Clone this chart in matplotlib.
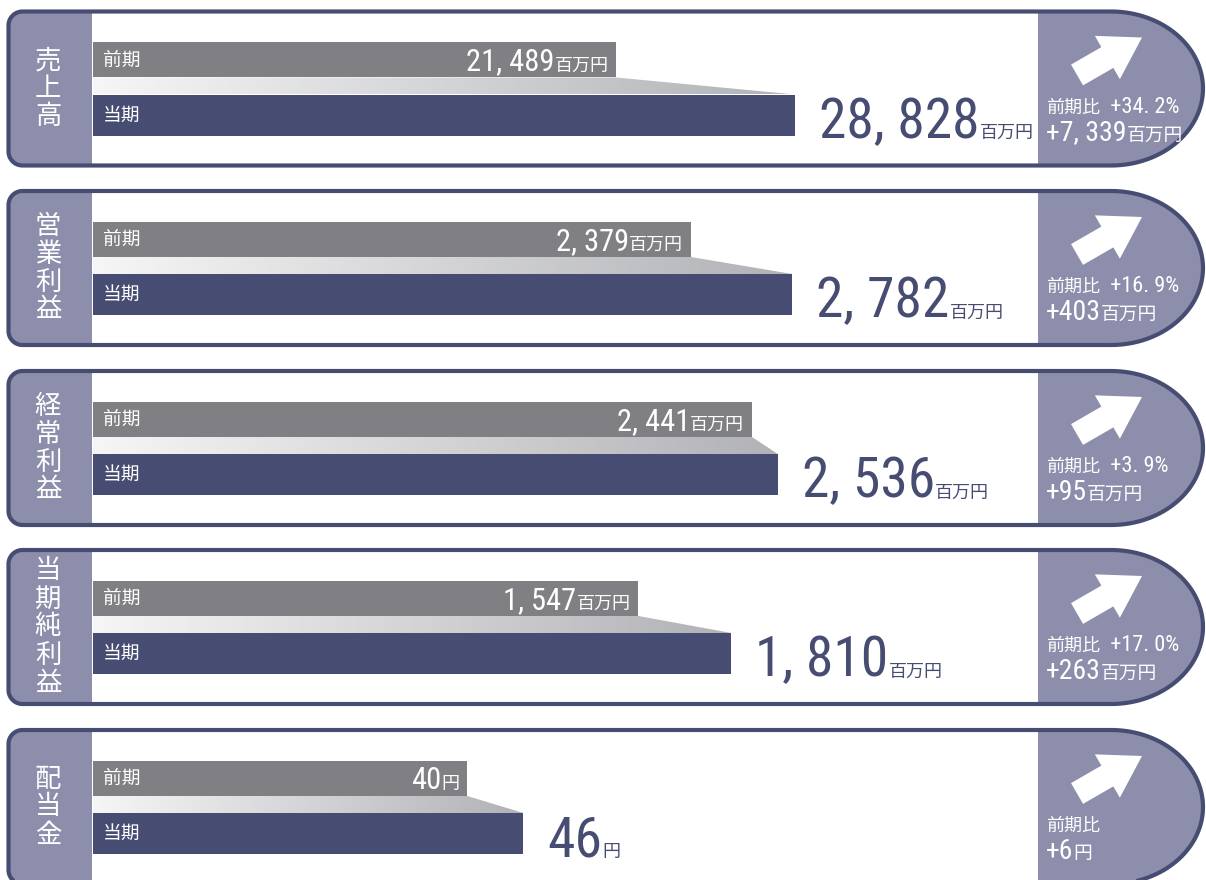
#!/usr/bin/env python3
import matplotlib

matplotlib.use("Agg")
import matplotlib.pyplot as plt
import numpy as np
from matplotlib import font_manager
from matplotlib.colors import LinearSegmentedColormap
from matplotlib.patches import Polygon, Rectangle
from matplotlib.transforms import offset_copy


# data
ITEMS = ["売上高", "営業利益", "経常利益", "当期純利益", "配当金"]
PREV = [21489, 2379, 2441, 1547, 40]
CURR = [28828, 2782, 2536, 1810, 46]
UNITS = ["百万円", "百万円", "百万円", "百万円", "円"]
CHANGE_PCT = ["+34.2%", "+16.9%", "+3.9%", "+17.0%", ""]
CHANGE_ABS = [7339, 403, 95, 263, 6]
PREV_LABEL = "前期"
CURR_LABEL = "当期"
RATIO_LABEL = "前期比"

# per-panel axis maximum (each panel has its own scale)
XMAX = [38800, 3760, 3500, 2680, 101]

W, H = 1206, 880
PANEL_TOP = [11.5, 191, 371, 550, 730]
PANEL_H = 154
NAVY = "#474c72"
SIDE = "#8d8eab"
GRAY = "#808084"
BAR_X0, BAR_X1 = 93, 1038

CJK = ["Noto Sans CJK JP", "DejaVu Sans"]


def pick_narrow():
    fonts = font_manager.fontManager.ttflist
    names = {f.name for f in fonts}
    for cand in ["Liberation Sans Narrow", "Roboto Condensed", "Open Sans Condensed", "DejaVu Sans Condensed"]:
        if cand in names:
            return {"family": [cand] + CJK}
    for f in fonts:
        if f.name == "DejaVu Sans" and "condensed" in str(f.stretch):
            return {"family": ["DejaVu Sans"] + CJK, "fontstretch": "condensed"}
    return {"family": ["Roboto"] + CJK}


NARROW = pick_narrow()


def fmt(v):
    return f"{v:,}".replace(",", ", ")


def panel_outline(x0, y0, x1, y1, r, rx):
    # rounded left corners, half-ellipse right end; flattened to a polygon
    ry = (y1 - y0) / 2
    t = np.linspace(0, np.pi / 2, 30)
    right_c = (x1 - rx, y0 + ry)
    pts = []
    pts += list(zip(x0 + r - r * np.cos(t), y0 + r - r * np.sin(t)))
    tt = np.linspace(-np.pi / 2, np.pi / 2, 90)
    pts += list(zip(right_c[0] + rx * np.cos(tt), right_c[1] + ry * np.sin(tt)))
    pts += list(zip(x0 + r - r * np.sin(t), y1 - r + r * np.cos(t)))
    return np.array(pts)


def arrow_points(tip_x, tip_y):
    d = np.array([np.cos(np.radians(30)), -np.sin(np.radians(30))])
    n = np.array([-d[1], d[0]])
    tip = np.array([tip_x, tip_y])
    length, head_len, shaft_hw, head_hw = 75, 40, 12, 25
    tail = tip - d * length
    neck = tip - d * head_len
    pts = [
        tip,
        neck + n * head_hw,
        neck + n * shaft_hw,
        tail + n * shaft_hw,
        tail - n * shaft_hw,
        neck - n * shaft_hw,
        neck - n * head_hw,
    ]
    return np.array(pts)


fig = plt.figure(figsize=(W / 100, H / 100), dpi=100)
renderer = fig.canvas.get_renderer()
to_fig = fig.transFigure.inverted()


def run(x, y, pieces, ha="left"):
    arts = []
    for s, kw in pieces:
        arts.append(fig.text(0, 0, s, va="baseline", ha="left", **kw))
    widths = [t.get_window_extent(renderer).width for t in arts]
    cx = x - sum(widths) if ha == "right" else x
    for t, w in zip(arts, widths):
        t.set_position(to_fig.transform((cx, y)))
        cx += w
    return arts


bg = fig.add_axes([0, 0, 1, 1])
bg.set_xlim(0, W)
bg.set_ylim(H, 0)
bg.axis("off")

band_cmap = LinearSegmentedColormap.from_list("band", ["#f6f6f6", "#b1b2b6"])

for i, name in enumerate(ITEMS):
    top = PANEL_TOP[i]
    bottom = top + PANEL_H
    pts = panel_outline(8.5, top, 1203, bottom, 14, 92)
    outer = Polygon(pts, closed=True, facecolor="white", edgecolor="none", zorder=1)
    bg.add_patch(outer)
    for x0, w in [(0, 92), (BAR_X1, 200)]:
        col = Rectangle((x0, top - 5), w, PANEL_H + 10, facecolor=SIDE, edgecolor="none", zorder=2)
        bg.add_patch(col)
        col.set_clip_path(outer)
    bg.add_patch(Polygon(pts, closed=True, fill=False, edgecolor=NAVY, linewidth=3.0,
                         joinstyle="round", zorder=5))
    bg.add_patch(Polygon(arrow_points(1142, top + 26), closed=True, facecolor="white",
                         edgecolor="none", zorder=4))

    cy = top + PANEL_H / 2
    n = len(name)
    for j, ch in enumerate(name):
        bg.text(48, cy + (j - (n - 1) / 2) * 28, ch, color="white", fontsize=19,
                family=CJK, ha="center", va="center", zorder=6)

    # bars
    area_top = top + 31
    ax = fig.add_axes([BAR_X0 / W, 1 - (area_top + 93) / H, (BAR_X1 - BAR_X0) / W, 93 / H])
    ax.axis("off")
    prev, cur = PREV[i], CURR[i]
    ax.barh(17.5, prev, height=35, color=GRAY, zorder=2)
    ax.barh(72.5, cur, height=41, color=NAVY, zorder=2)
    band = Polygon([(0, 35), (prev, 35), (cur, 52), (0, 52)], closed=True,
                   facecolor="none", edgecolor="none")
    ax.add_patch(band)
    img = ax.imshow(np.linspace(0, 1, 256)[None, :], cmap=band_cmap, aspect="auto",
                    extent=(0, cur, 52, 35), zorder=1)
    img.set_clip_path(band)
    ax.set_xlim(0, XMAX[i])
    ax.set_ylim(93, 0)

    lab_tr = offset_copy(ax.transData, fig, x=10, y=0, units="dots")
    ax.text(0, 17.5, PREV_LABEL, transform=lab_tr, color="white", fontsize=13.5,
            family=CJK, va="center", ha="left")
    ax.text(0, 72.5, CURR_LABEL, transform=lab_tr, color="white", fontsize=13.5,
            family=CJK, va="center", ha="left")

    px, py = ax.transData.transform((prev, 28))
    run(px - 8, py, [(fmt(prev), dict(fontsize=22, color="white", **NARROW)),
                     (UNITS[i], dict(fontsize=13, color="white", family=CJK))], ha="right")

    cx, cyd = ax.transData.transform((cur, 95.5))
    run(cx + 24, cyd, [(fmt(cur), dict(fontsize=40, color=NAVY, **NARROW)),
                       (UNITS[i], dict(fontsize=13, color=NAVY, family=CJK))])

    line1 = [(RATIO_LABEL, dict(fontsize=13, color="white", family=CJK))]
    if CHANGE_PCT[i]:
        line1.append(("  " + CHANGE_PCT[i].replace(".", ". "), dict(fontsize=16, color="white", **NARROW)))
    run(1046, H - (top + 101), line1)
    run(1046, H - (top + 129), [("+" + fmt(CHANGE_ABS[i]), dict(fontsize=20, color="white", **NARROW)),
                                (UNITS[i], dict(fontsize=13.5, color="white", family=CJK))])

fig.savefig("out.png", dpi=100, facecolor="white")
